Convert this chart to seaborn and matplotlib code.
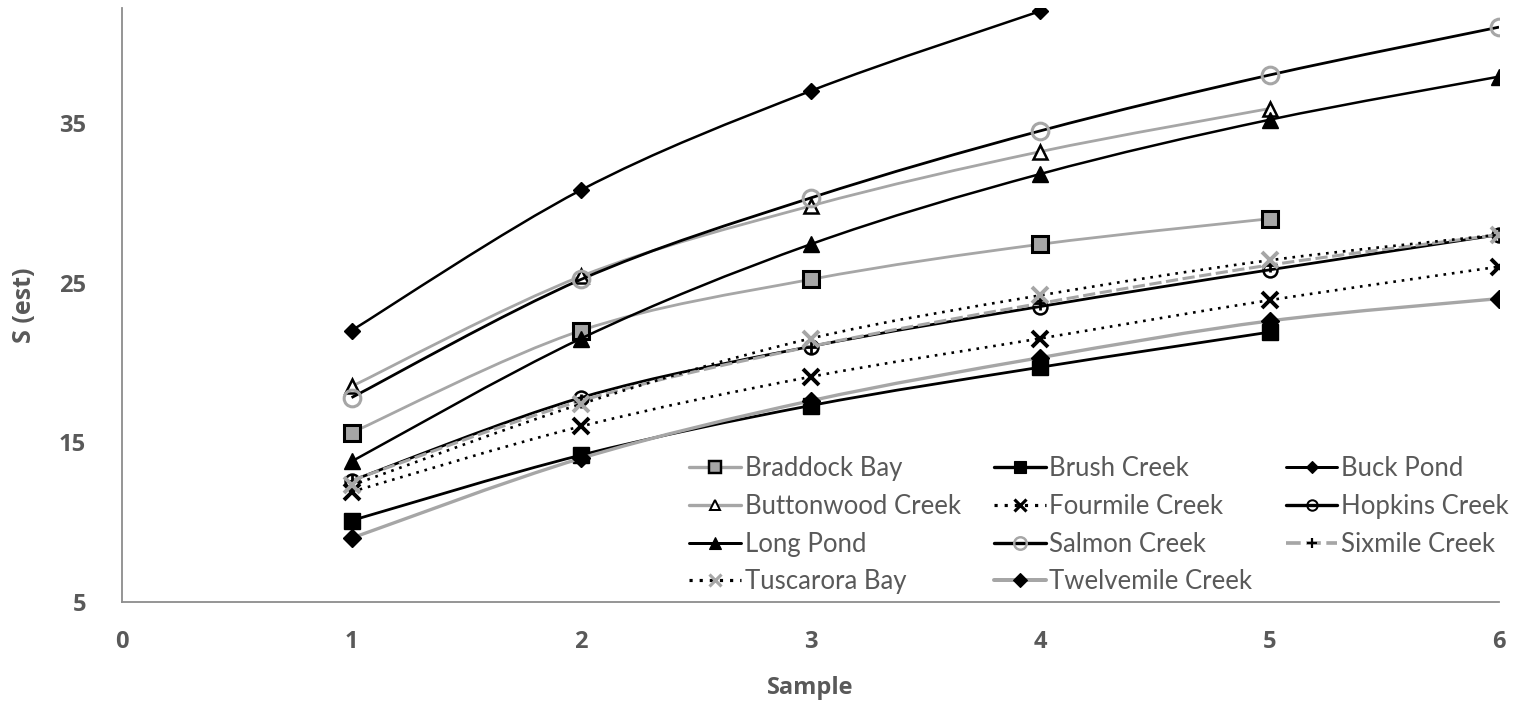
import numpy as np
import matplotlib
matplotlib.use('Agg')
import matplotlib.pyplot as plt
import seaborn as sns
from matplotlib.path import Path
from matplotlib.patches import PathPatch
from matplotlib.lines import Line2D

# Species richness estimates per sample
samples = [1, 2, 3, 4, 5, 6]
braddock_bay = [15.6, 22.0, 25.2, 27.4, 29.0]
brush_creek = [10.1, 14.2, 17.3, 19.7, 21.9]
buck_pond = [22.0, 30.8, 37.0, 42.0]
buttonwood_creek = [18.5, 25.4, 29.8, 33.2, 35.9]
fourmile_creek = [11.9, 16.0, 19.1, 21.5, 23.9, 26.0]
hopkins_creek = [12.6, 17.8, 21.0, 23.5, 25.8, 28.0]
long_pond = [13.8, 21.5, 27.4, 31.8, 35.2, 37.9]
salmon_creek = [17.8, 25.2, 30.3, 34.5, 38.0, 41.0]
sixmile_creek = [12.6, 17.6, 21.0, 23.7, 26.1, 28.0]
tuscarora_bay = [12.3, 17.4, 21.5, 24.2, 26.4, 28.0]
twelvemile_creek = [9.0, 14.0, 17.6, 20.3, 22.6, 24.0]

GRAY = '#a6a6a6'
TXT = '#595959'

# name, values, line color, line style, line width, marker, marker size, face, edge, edge width
series = [
    ('Braddock Bay', braddock_bay, GRAY, '-', 2.0, 's', 11, GRAY, 'black', 2.2),
    ('Brush Creek', brush_creek, 'black', '-', 2.0, 's', 12, 'black', 'black', 1.0),
    ('Buck Pond', buck_pond, 'black', '-', 1.8, 'D', 8, 'black', 'black', 1.0),
    ('Buttonwood Creek', buttonwood_creek, GRAY, '-', 2.0, '^', 10, 'white', 'black', 1.8),
    ('Fourmile Creek', fourmile_creek, 'black', (0, (1, 2.2)), 1.9, 'x', 11, 'black', 'black', 2.8),
    ('Hopkins Creek', hopkins_creek, 'black', '-', 2.0, 'o', 10, 'none', 'black', 1.8),
    ('Long Pond', long_pond, 'black', '-', 1.8, '^', 12, 'black', 'black', 1.0),
    ('Salmon Creek', salmon_creek, 'black', '-', 2.0, 'o', 12, 'none', GRAY, 2.2),
    ('Sixmile Creek', sixmile_creek, GRAY, (0, (4, 1.5)), 2.2, '+', 10, 'black', 'black', 2.0),
    ('Tuscarora Bay', tuscarora_bay, 'black', (0, (1, 2.2)), 1.9, 'x', 11, GRAY, GRAY, 2.8),
    ('Twelvemile Creek', twelvemile_creek, GRAY, '-', 2.4, 'D', 9, 'black', 'black', 1.0),
]


def smooth_path(x, y):
    # Excel style smoothed scatter line: cubic Bezier through the points
    pts = np.column_stack([x, y]).astype(float)
    n = len(pts)
    verts = [pts[0]]
    codes = [Path.MOVETO]
    for i in range(n - 1):
        p0 = pts[i - 1] if i > 0 else pts[i]
        p3 = pts[i + 2] if i + 2 < n else pts[i + 1]
        c1 = pts[i] + (pts[i + 1] - p0) / 6
        c2 = pts[i + 1] - (p3 - pts[i]) / 6
        verts += [c1, c2, pts[i + 1]]
        codes += [Path.CURVE4] * 3
    return Path(verts, codes)


sns.set_style('white')
plt.rcParams['font.family'] = ['Open Sans', 'DejaVu Sans']

fig = plt.figure(figsize=(15.18, 7.05), dpi=100)
ax = fig.add_axes([0.0804, 0.1461, 0.9071, 0.8426])

handles = {}
for i, (name, vals, lc, ls, lw, mk, ms, fc, ec, mew) in enumerate(series):
    xs = samples[:len(vals)]
    patch = PathPatch(smooth_path(xs, vals), fill=False, edgecolor=lc, lw=lw,
                      linestyle=ls, zorder=2 + i)
    ax.add_patch(patch)
    ax.plot(xs, vals, linestyle='none', marker=mk, markersize=ms,
            markerfacecolor=fc, markeredgecolor=ec, markeredgewidth=mew,
            zorder=2.5 + i)
    handles[name] = Line2D([], [], color=lc, lw=lw * 1.2, linestyle=ls, marker=mk,
                           markersize=ms * 0.75, markerfacecolor=fc,
                           markeredgecolor=ec, markeredgewidth=mew * 0.8)

ax.set_xlim(0, 6)
ax.set_ylim(5, 42.2)
ax.set_xticks(range(0, 7))
ax.set_yticks([5, 15, 25, 35])
ax.tick_params(length=0, labelsize=17, labelcolor=TXT)
ax.tick_params(axis='x', pad=20)
ax.tick_params(axis='y', pad=26)
for lab in ax.get_xticklabels() + ax.get_yticklabels():
    lab.set_fontweight('bold')

for side in ['top', 'right']:
    ax.spines[side].set_visible(False)
for side in ['left', 'bottom']:
    ax.spines[side].set_color('#8c8c8c')
    ax.spines[side].set_linewidth(1.3)

ax.set_xlabel('Sample', fontsize=17, fontweight='bold', color=TXT, labelpad=16)
ax.set_ylabel('S (est)', fontsize=18, fontweight='bold', color=TXT, labelpad=16)

# legend is filled column by column in matplotlib, so reorder to read row-wise
order = ['Braddock Bay', 'Buttonwood Creek', 'Long Pond', 'Tuscarora Bay',
         'Brush Creek', 'Fourmile Creek', 'Salmon Creek', 'Twelvemile Creek',
         'Buck Pond', 'Hopkins Creek', 'Sixmile Creek']
leg = ax.legend([handles[k] for k in order], order, ncol=3, frameon=False,
                loc='upper left', bbox_to_anchor=(0.412, 0.246),
                prop={'family': ['Lato', 'DejaVu Sans'], 'size': 18.5},
                handlelength=2.0, handletextpad=0.15, columnspacing=1.3,
                labelspacing=0.5, borderaxespad=0.0, borderpad=0.0)
for t in leg.get_texts():
    t.set_color(TXT)

fig.savefig('out.png', dpi=100)
